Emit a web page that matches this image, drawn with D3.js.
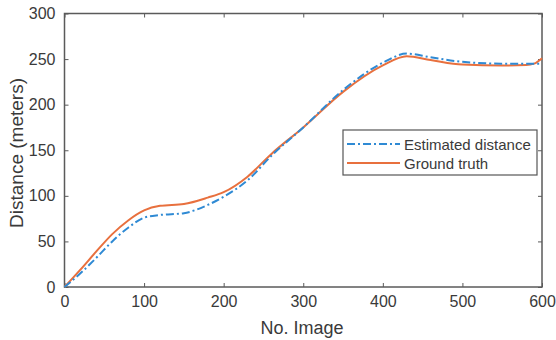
<html>
<head>
<meta charset="utf-8">
<script src="https://d3js.org/d3.v7.min.js"></script>
<style>
  body { margin: 0; background: #fff; }
  text { font-family: "Liberation Sans", Arial, sans-serif; fill: #3a3a3a; }
</style>
</head>
<body>
<div id="chart"></div>
<script>
var width = 556, height = 340
var plotL = 64.5, plotR = 542, plotT = 13.5, plotB = 287

// readings
var imgs      = [0, 20, 40, 60, 80, 100, 120, 150, 180, 200, 230, 260, 300, 350, 400, 430, 460, 500, 550, 580, 590, 600]
var groundTruth = [0, 19, 39, 58, 73, 84, 89, 91, 98, 104, 121, 146, 175, 214, 243, 253, 249, 244, 243, 243.5, 245, 251]
var estimated   = [0, 15, 32, 50, 65, 76, 79, 81, 90, 99, 117, 144, 175, 216, 246, 256, 252, 247, 245, 245, 245, 245]
var xTicks = [0, 100, 200, 300, 400, 500, 600]
var yTicks = [0, 50, 100, 150, 200, 250, 300]
var legendLabels = ["Estimated distance", "Ground truth"]

var svg = d3.select('#chart').append('svg')
  .attr('width', width).attr('height', height)

var x = d3.scaleLinear().domain([0, 600]).range([plotL, plotR])
var y = d3.scaleLinear().domain([0, 300]).range([plotB, plotT])

var axisColor = '#5a5a5a'

function styleAxis(g, hideText) {
  g.select('.domain').remove()
  g.selectAll('line').attr('stroke', axisColor).attr('stroke-width', 1)
  g.selectAll('text').style('font-size', '16px').attr('fill', '#3a3a3a')
  if (hideText) g.selectAll('text').remove()
}

svg.append('g').attr('transform', 'translate(0,' + plotB + ')')
  .call(d3.axisBottom(x).tickValues(xTicks).tickSizeInner(-4).tickSizeOuter(0).tickPadding(9))
  .call(function(g){ styleAxis(g, false) })
svg.append('g').attr('transform', 'translate(0,' + plotT + ')')
  .call(d3.axisTop(x).tickValues(xTicks).tickSizeInner(-4).tickSizeOuter(0))
  .call(function(g){ styleAxis(g, true) })
svg.append('g').attr('transform', 'translate(' + plotL + ',0)')
  .call(d3.axisLeft(y).tickValues(yTicks).tickSizeInner(-4).tickSizeOuter(0).tickPadding(9))
  .call(function(g){ styleAxis(g, false) })
svg.append('g').attr('transform', 'translate(' + plotR + ',0)')
  .call(d3.axisRight(y).tickValues(yTicks).tickSizeInner(-4).tickSizeOuter(0))
  .call(function(g){ styleAxis(g, true) })

svg.append('rect')
  .attr('x', plotL).attr('y', plotT)
  .attr('width', plotR - plotL).attr('height', plotB - plotT)
  .attr('fill', 'none').attr('stroke', axisColor).attr('stroke-width', 1.5)

var line = d3.line().curve(d3.curveMonotoneX)
  .x(function(d){ return x(d[0]) }).y(function(d){ return y(d[1]) })

var blue = '#2f8ad4', orange = '#e8703e'

svg.append('path')
  .attr('d', line(imgs.map(function(v, i){ return [v, groundTruth[i]] })))
  .attr('fill', 'none').attr('stroke', orange).attr('stroke-width', 2)

svg.append('path')
  .attr('d', line(imgs.map(function(v, i){ return [v, estimated[i]] })))
  .attr('fill', 'none').attr('stroke', blue).attr('stroke-width', 2)
  .attr('stroke-dasharray', '8,3,2,3')

// legend
var lg = svg.append('g')
lg.append('rect').attr('x', 343).attr('y', 130).attr('width', 194).attr('height', 45)
  .attr('fill', '#fff').attr('stroke', '#555').attr('stroke-width', 1.2)
var lgColors = [blue, orange], lgDash = ['8,3,2,3', null], lgY = [144, 163]
legendLabels.forEach(function(t, i){
  lg.append('line').attr('x1', 347).attr('x2', 400).attr('y1', lgY[i]).attr('y2', lgY[i])
    .attr('stroke', lgColors[i]).attr('stroke-width', 2)
    .attr('stroke-dasharray', lgDash[i])
  lg.append('text').attr('x', 404).attr('y', lgY[i] + 5.5).style('font-size', '15px').text(t)
})

svg.append('text').attr('x', 302).attr('y', 334).attr('text-anchor', 'middle')
  .style('font-size', '18px').text('No. Image')
svg.append('text').attr('transform', 'translate(23,153) rotate(-90)').attr('text-anchor', 'middle')
  .style('font-size', '19px').text('Distance (meters)')
</script>
</body>
</html>
